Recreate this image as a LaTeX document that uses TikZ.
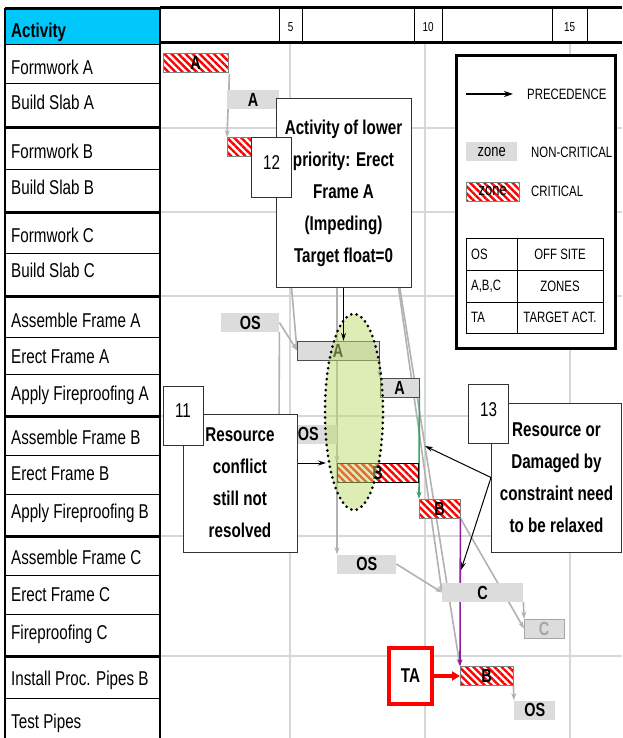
\documentclass[tikz,border=0pt]{standalone}
\usepackage{fontspec}
\setmainfont{Liberation Sans}[FakeStretch=0.76]
\usetikzlibrary{arrows.meta,patterns.meta,shapes.geometric}
\pgfdeclarelayer{back}
\pgfdeclarelayer{links}
\pgfsetlayers{back,links,main}
\definecolor{headCyan}{RGB}{0,200,250}
\definecolor{barGray}{RGB}{220,220,220}
\definecolor{gridGray}{RGB}{215,215,215}
\definecolor{lineGray}{RGB}{178,178,178}
\definecolor{zoneGreen}{RGB}{190,220,110}
\definecolor{linkGreen}{RGB}{60,160,110}
\definecolor{linkPurple}{RGB}{140,30,160}

\begin{document}
\begin{tikzpicture}[x=1pt,y=-1pt,
    every node/.style={inner sep=0pt},
    bar/.style={anchor=west, minimum height=19pt, font=\fontsize{19}{19}\selectfont\bfseries},
    noncrit/.style={bar, fill=barGray},
    crit/.style={bar, draw=gray, preaction={fill=white},
      pattern={Lines[angle=-45,distance=5pt,line width=2.4pt]}, pattern color=red},
    prec/.style={draw=lineGray, line width=1.6pt, -{Stealth[length=7pt,width=5pt]}},
    callout/.style={draw=black, line width=1pt, -{Stealth[length=8pt,width=5pt]}},
    rowtext/.style={anchor=base west, font=\fontsize{20}{20}\selectfont},
    note/.style={draw=black!80, fill=white, line width=1pt, align=center,
      font=\fontsize{20}{32}\selectfont\bfseries},
    numbox/.style={draw=black!80, fill=white, line width=1pt, text height=14pt, text depth=10pt,
      minimum width=40pt, minimum height=59pt, font=\fontsize{20}{20}\selectfont},
    legtext/.style={anchor=west, font=\fontsize{15}{15}\selectfont}]
    \useasboundingbox (0,0) rectangle (622,738);

    %% Grid
    \begin{pgfonlayer}{back}
    \fill[white] (0,0) rectangle (622,738);
    \foreach \gx in {290,425,570}
        \draw[gridGray, line width=1.2pt] (\gx,43) -- (\gx,738);
    \foreach \gy in {128,212,296,416,536,656}
        \draw[gridGray, line width=1.2pt] (160,\gy) -- (622,\gy);
    \end{pgfonlayer}

    %% Time scale
    \draw[line width=3pt] (160,8) -- (622,8);
    \draw[line width=3pt] (160,43) -- (622,43);
    \foreach \ta/\tb/\n in {279/302/5, 414/442/10, 552/587/15} {
        \draw[thin] (\ta,8) -- (\ta,43);
        \draw[thin] (\tb,8) -- (\tb,43);
        \node[font=\fontsize{13}{13}\selectfont] (tick\n) at ({(\ta+\tb)/2},27) {\n};
    }

    %% Activity column
    \fill[headCyan] (5,9) rectangle (159,45);
    \node[anchor=west, font=\fontsize{20}{20}\selectfont\bfseries] (acthead) at (11,32) {Activity};
    \foreach \ly/\txt [count=\i] in {75/Formwork A, 110/Build Slab A, 159/Formwork B,
        194/Build Slab B, 242/Formwork C, 277/Build Slab C, 327/Assemble Frame A,
        363/Erect Frame A, 400/Apply Fireproofing A, 444/Assemble Frame B,
        480/Erect Frame B, 518/Apply Fireproofing B, 564/Assemble Frame C,
        601/Erect Frame C, 639/Fireproofing C, 685/Install Proc. Pipes B, 728/Test Pipes}
        \node[rowtext] (row\i) at (11,\ly) {\txt};
    \foreach \ly in {45,84,170,253,337,374,455,494,575,614,698}
        \draw[line width=1pt] (5,\ly) -- (160,\ly);
    \foreach \ly in {9,128,212,296,416,536,656}
        \draw[line width=3pt] (5,\ly) -- (160,\ly);
    \draw[line width=2.5pt] (5,8) -- (5,738);
    \draw[line width=2.5pt] (160,8) -- (160,738);

    %% Bars
    \node[crit, minimum width=65pt] (fwA) at (162,63) {A};
    \node[noncrit, minimum width=52pt] (bsA) at (227,99.5) {A};
    \node[crit, minimum width=58pt] (fwB) at (227,147) {};
    \node[noncrit, minimum width=58pt] (osA) at (221,322.5) {OS};
    \node[noncrit, draw=black!70, minimum width=82pt] (efA) at (297,350.5) {A};
    \node[noncrit, draw=black!70, minimum width=39pt] (apA) at (380,387.5) {A};
    \node[noncrit, minimum width=58pt] (osB) at (279,434) {OS};
    \node[crit, draw=black, minimum width=81pt] (efB) at (337,472.5) {B};
    \node[crit, minimum width=41pt] (apB) at (419,508.5) {B};
    \node[noncrit, minimum width=59pt] (osC) at (337,564) {OS};
    \node[noncrit, minimum width=81pt] (ecC) at (442,592.5) {C};
    \node[noncrit, draw=gray!70, text=gray!70, minimum width=40pt] (fpC) at (524,628.5) {C};
    \node[crit, minimum width=53pt] (ipB) at (460,676) {B};
    \node[noncrit, minimum width=41pt] (osT) at (514,710) {OS};

    \coordinate (c1) at (290,270);
    \coordinate (c2) at (337,270);
    \coordinate (c3) at (396,270);
    \coordinate (c4) at (397,270);

    %% Precedence links
    \begin{pgfonlayer}{links}
    \draw[prec] (fwA.south east) -- (fwA.south east |- bsA.west);
    \draw[prec] (fwA.south east) -- (fwB.north west);
    \draw[prec] (c1) -- (efA.west);
    \draw[prec] (osA.east) -- (efA.west);
    \draw[prec] (osA.south east) -- (osB.north west);
    \draw[prec] (c2) -- (efB.north west);
    \draw[prec] (c2) -- (osC.north west);
    \draw[prec] (c3) -- (ecC.west);
    \draw[prec] (c4) -- (ipB.north west);
    \draw[prec] (osC.east) -- (ecC.west);
    \draw[prec] (apB.south east) -- (fpC.west);
    \draw[prec] (ecC.south east) -- (fpC.north west);
    \draw[prec] (ipB.south east) -- (osT.north west);
    \draw[prec, draw=gray!80] (efA.south east) -- (apA.north west);
    \draw[prec, draw=linkGreen] (apA.east) -- (apB.north west);
    \draw[prec, draw=linkPurple] (apB.south east) -- (ipB.north west);
    \end{pgfonlayer}

    %% Conflict zone
    \node[ellipse, minimum width=58pt, minimum height=196pt, fill=zoneGreen, fill opacity=0.5,
        draw=black, line width=3pt, dash pattern=on 0pt off 5.5pt, line cap=round] (conflict) at (354,412) {};

    %% Notes
    \node[note, minimum width=135pt, minimum height=188pt] (box12) at (343.5,193)
        {Activity of lower\\priority: Erect\\Frame A\\(Impeding)\\Target float=0};
    \node[numbox] (num12) at (271.5,167.5) {12};
    \node[note, minimum width=114pt, minimum height=138pt] (box11) at (240,483)
        {Resource\\conflict\\still not\\resolved};
    \node[numbox] (num11) at (183,415.5) {11};
    \node[note, minimum width=130pt, minimum height=149pt] (box13) at (556.5,477.5)
        {Resource or\\Damaged by\\constraint need\\to be relaxed};
    \node[numbox] (num13) at (488.5,414) {13};
    \node[draw=red, line width=4.5pt, fill=white, minimum width=43pt, minimum height=56pt,
        font=\fontsize{20}{20}\selectfont\bfseries] (ta) at (410.5,676) {TA};
    \draw[red, line width=3.5pt, -{Triangle[length=8pt,width=9pt]}] (ta.east) -- (ipB.west);

    \coordinate (t11) at (326,463);
    \coordinate (t13a) at (425,446);
    \coordinate (t13b) at (461,570);
    \draw[callout] (box11.east |- t11) -- (t11);
    \draw[callout] (box13.west) -- (t13a);
    \draw[callout] (box13.west) -- (t13b);
    \draw[callout] (box12.south) -- (box12.south |- efA.north);

    %% Legend
    \node[draw=black, line width=3pt, fill=white, minimum width=159pt, minimum height=293pt] (legend) at (536,202) {};
    \coordinate (legA) at (466,94);
    \coordinate (legB) at (513,94);
    \draw[line width=1.5pt, -{Stealth[length=9pt,width=6pt]}] (legA) -- (legB);
    \node[legtext] (lprec) at (527,94) {PRECEDENCE};
    \node[noncrit, minimum width=51pt, font=\fontsize{17}{17}\selectfont] (lnon) at (466,152) {zone};
    \node[legtext] (lnontxt) at (531,152) {NON-CRITICAL};
    \node[crit, minimum width=53pt, font=\fontsize{17}{17}\selectfont] (lcrit) at (466,191.5) {zone};
    \node[legtext] (lcrittxt) at (531,191.5) {CRITICAL};
    \draw[line width=1pt] (466,238) rectangle (603,333);
    \draw[line width=1pt] (466,270) -- (603,270);
    \draw[line width=1pt] (466,302) -- (603,302);
    \draw[line width=1pt] (517,238) -- (517,333);
    \foreach \ly/\ka/\kb [count=\i] in {254/OS/OFF SITE, 286/{A,B,C}/ZONES, 317.5/TA/TARGET ACT.} {
        \node[legtext] (key\i) at (471,\ly) {\ka};
        \node[font=\fontsize{15}{15}\selectfont] (val\i) at (560,\ly) {\kb};
    }
\end{tikzpicture}
\end{document}
